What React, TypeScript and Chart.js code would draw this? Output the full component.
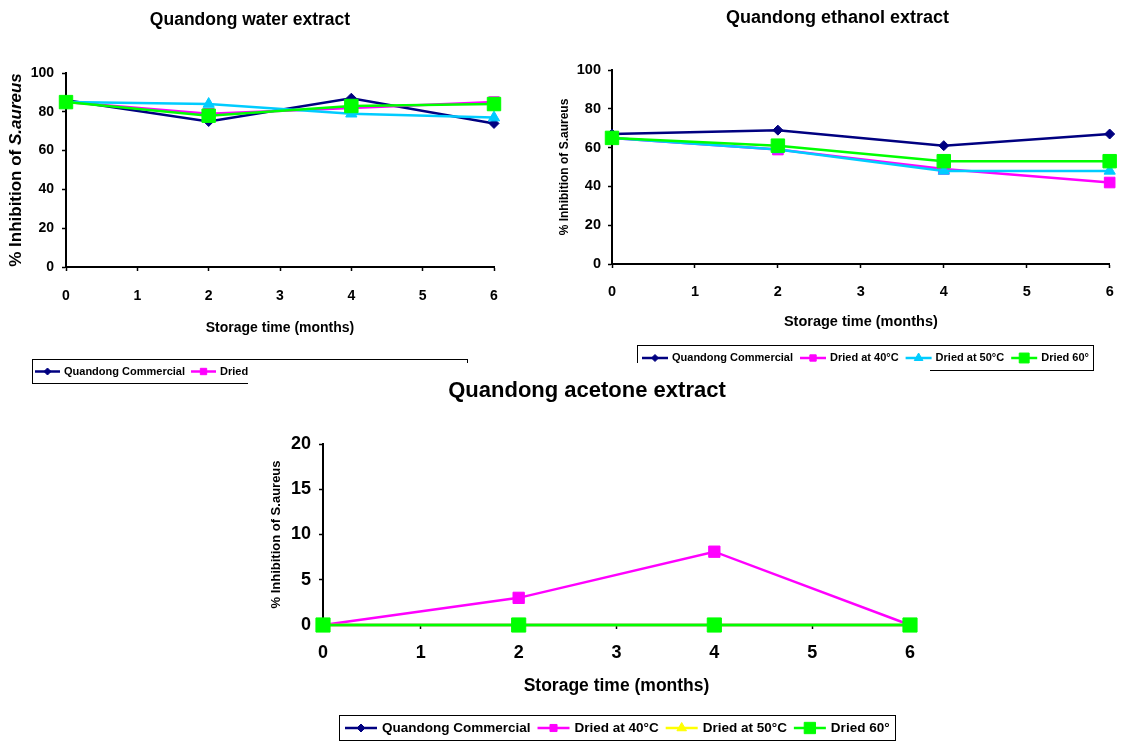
import React, { useEffect, useRef } from 'react';
import { Chart, registerables } from 'chart.js';
import { drawPoint } from 'chart.js/helpers';

Chart.register(...registerables);

const FONT = "'Liberation Sans', Arial, Helvetica, sans-serif";
Chart.defaults.font.family = FONT;
Chart.defaults.color = '#000';

// ---------- data ----------
const months = [0, 2, 4, 6];
const seriesNames = ['Quandong Commercial', 'Dried at 40°C', 'Dried at 50°C', 'Dried 60°'];

const waterCommercial = [86, 75, 87, 74];
const waterDried40 = [85, 79, 82, 85];
const waterDried50 = [85, 84, 79, 77];
const waterDried60 = [85, 78, 83, 84];

const ethanolCommercial = [67, 69, 61, 67];
const ethanolDried40 = [65, 59, 49, 42];
const ethanolDried50 = [65, 59, 48, 48];
const ethanolDried60 = [65, 61, 53, 53];

const acetoneCommercial = [0, 0, 0, 0];
const acetoneDried40 = [0, 3, 8.1, 0];
const acetoneDried50 = [0, 0, 0, 0];
const acetoneDried60 = [0, 0, 0, 0];

const xTitle = 'Storage time (months)';
const yTitle = '% Inhibition of S.aureus';

// ---------- styles ----------
const colorsBlue = ['#000080', '#FF00FF', '#00CCFF', '#00FF00'];
const colorsYellow = ['#000080', '#FF00FF', '#FFFF00', '#00FF00'];
const pointStyles = ['rectRot', 'rect', 'triangle', 'rect'];

function makeDatasets(values: number[][], colors: string[], radii: number[], legendRadii: number[]) {
  return seriesNames.map((name, i) => ({
    label: name,
    data: months.map((m, j) => ({ x: m, y: values[i][j] })),
    borderColor: colors[i],
    backgroundColor: colors[i],
    pointBackgroundColor: colors[i],
    pointBorderColor: colors[i],
    pointBorderWidth: 1,
    borderWidth: 2.5,
    pointStyle: pointStyles[i],
    pointRadius: radii[i],
    pointHoverRadius: radii[i],
    legendRadius: legendRadii[i],
    tension: 0,
    order: 4 - i,
    clip: false,
  }));
}

type LegendBox = { x: number; y: number; w: number; h: number; font: number; sym: number; padLeft: number; gap: number; itemGap: number };

function legendPlugin(box: LegendBox) {
  return {
    id: 'boxLegend',
    afterDraw(chart: any) {
      const ctx = chart.ctx as CanvasRenderingContext2D;
      ctx.save();
      ctx.lineWidth = 1;
      ctx.strokeStyle = '#000';
      ctx.strokeRect(box.x + 0.5, box.y + 0.5, box.w, box.h);
      const cy = box.y + box.h / 2 + 0.5;
      let x = box.x + box.padLeft;
      chart.data.datasets.forEach((ds: any) => {
        ctx.strokeStyle = ds.borderColor;
        ctx.lineWidth = ds.borderWidth;
        ctx.beginPath();
        ctx.moveTo(x, cy);
        ctx.lineTo(x + box.sym, cy);
        ctx.stroke();
        ctx.fillStyle = ds.pointBackgroundColor;
        ctx.strokeStyle = ds.pointBorderColor;
        ctx.lineWidth = 1;
        drawPoint(ctx, { pointStyle: ds.pointStyle, radius: ds.legendRadius, rotation: 0, borderWidth: 1 } as any, x + box.sym / 2, cy);
        x += box.sym + box.gap;
        ctx.font = `bold ${box.font}px ${FONT}`;
        ctx.textBaseline = 'middle';
        ctx.textAlign = 'left';
        ctx.fillStyle = '#000';
        ctx.fillText(ds.label, x, cy);
        x += ctx.measureText(ds.label).width + box.itemGap;
      });
      ctx.restore();
    },
  };
}

function mixedYTitlePlugin(cx: number, cy: number, size: number, parts: { text: string; italic: boolean }[]) {
  return {
    id: 'mixedYTitle',
    afterDraw(chart: any) {
      const ctx = chart.ctx as CanvasRenderingContext2D;
      ctx.save();
      ctx.translate(cx, cy);
      ctx.rotate(-Math.PI / 2);
      ctx.fillStyle = '#000';
      ctx.textBaseline = 'middle';
      ctx.textAlign = 'left';
      const fonts = parts.map((p) => `${p.italic ? 'italic ' : ''}bold ${size}px ${FONT}`);
      const widths = parts.map((p, i) => {
        ctx.font = fonts[i];
        return ctx.measureText(p.text).width;
      });
      const total = widths.reduce((a, b) => a + b, 0);
      let x = -total / 2;
      parts.forEach((p, i) => {
        ctx.font = fonts[i];
        ctx.fillText(p.text, x, 0);
        x += widths[i];
      });
      ctx.restore();
    },
  };
}

type ChartLayout = {
  title: string; titleSize: number; titlePadTop: number; titlePadBottom: number;
  padLeft: number; padRight: number; padBottom: number;
  yWidth: number; xHeight: number;
  tickSize: number; xTickPad: number; yTickPad: number;
  xTitleSize: number; xTitlePadBottom: number;
  yTitleShow: boolean; yTitleSize: number; yTitlePadTop: number;
  yMax: number; yStep: number;
};

function makeConfig(l: ChartLayout, datasets: any[], plugins: any[]) {
  const axisCommon = {
    grid: { display: true, drawOnChartArea: false, drawTicks: true, tickLength: 4, color: '#000', tickColor: '#000', tickWidth: 1.5 },
    border: { display: true, color: '#000', width: 2 },
  };
  return {
    type: 'line' as const,
    data: { datasets },
    plugins,
    options: {
      animation: false as const,
      responsive: false,
      maintainAspectRatio: false,
      devicePixelRatio: 1,
      events: [],
      layout: { padding: { left: l.padLeft, right: l.padRight, top: 0, bottom: l.padBottom } },
      plugins: {
        legend: { display: false },
        tooltip: { enabled: false },
        title: {
          display: true,
          text: l.title,
          color: '#000',
          font: { family: FONT, size: l.titleSize, weight: 'bold' as const, lineHeight: 1.2 },
          padding: { top: l.titlePadTop, bottom: l.titlePadBottom },
        },
      },
      scales: {
        x: {
          type: 'linear' as const,
          min: 0,
          max: 6,
          afterFit: (s: any) => { s.height = l.xHeight; },
          ticks: { stepSize: 1, autoSkip: false, color: '#000', padding: l.xTickPad, font: { family: FONT, size: l.tickSize, weight: 'bold' as const, lineHeight: 1.2 } },
          title: { display: true, text: xTitle, color: '#000', font: { family: FONT, size: l.xTitleSize, weight: 'bold' as const, lineHeight: 1.2 }, padding: { top: 0, bottom: l.xTitlePadBottom } },
          ...axisCommon,
        },
        y: {
          type: 'linear' as const,
          min: 0,
          max: l.yMax,
          afterFit: (s: any) => { s.width = l.yWidth; },
          ticks: { stepSize: l.yStep, autoSkip: false, color: '#000', padding: l.yTickPad, font: { family: FONT, size: l.tickSize, weight: 'bold' as const, lineHeight: 1.2 } },
          title: { display: l.yTitleShow, text: yTitle, color: '#000', font: { family: FONT, size: l.yTitleSize, weight: 'bold' as const, lineHeight: 1.2 }, padding: { top: l.yTitlePadTop, bottom: 0 } },
          ...axisCommon,
        },
      },
    },
  };
}

const waterLayout: ChartLayout = {
  title: 'Quandong water extract', titleSize: 17.5, titlePadTop: 9.5, titlePadBottom: 42.5,
  padLeft: 6, padRight: 26, padBottom: 44,
  yWidth: 60, xHeight: 73,
  tickSize: 14, xTickPad: 16.5, yTickPad: 8,
  xTitleSize: 14, xTitlePadBottom: 3.6,
  yTitleShow: false, yTitleSize: 17, yTitlePadTop: 0,
  yMax: 100, yStep: 20,
};

const ethanolLayout: ChartLayout = {
  title: 'Quandong ethanol extract', titleSize: 18, titlePadTop: 7.2, titlePadBottom: 41.2,
  padLeft: 17, padRight: 11, padBottom: 38,
  yWidth: 55, xHeight: 70,
  tickSize: 14.5, xTickPad: 15.3, yTickPad: 7,
  xTitleSize: 14.5, xTitlePadBottom: 3.3,
  yTitleShow: true, yTitleSize: 12, yTitlePadTop: 0,
  yMax: 100, yStep: 20,
};

const acetoneLayout: ChartLayout = {
  title: 'Quandong acetone extract', titleSize: 22, titlePadTop: 14.8, titlePadBottom: 39.8,
  padLeft: 16, padRight: 20, padBottom: 39,
  yWidth: 59, xHeight: 78,
  tickSize: 18, xTickPad: 13.2, yTickPad: 8,
  xTitleSize: 17.5, xTitlePadBottom: 6.5,
  yTitleShow: true, yTitleSize: 13, yTitlePadTop: 4.2,
  yMax: 20, yStep: 5,
};

export default function App() {
  const waterRef = useRef<HTMLCanvasElement>(null);
  const ethanolRef = useRef<HTMLCanvasElement>(null);
  const acetoneRef = useRef<HTMLCanvasElement>(null);

  useEffect(() => {
    const charts: Chart[] = [];
    if (waterRef.current) {
      charts.push(new Chart(waterRef.current, makeConfig(
        waterLayout,
        makeDatasets([waterCommercial, waterDried40, waterDried50, waterDried60], colorsBlue, [5, 7.5, 6.5, 9.5], [3.5, 4.5, 5, 7]),
        [
          legendPlugin({ x: 32, y: 359, w: 435, h: 24, font: 11, sym: 25, padLeft: 3, gap: 4, itemGap: 6 }),
          mixedYTitlePlugin(16, 170, 17, [{ text: '% Inhibition of ', italic: false }, { text: 'S.aureus', italic: true }]),
        ],
      ) as any));
    }
    if (ethanolRef.current) {
      charts.push(new Chart(ethanolRef.current, makeConfig(
        ethanolLayout,
        makeDatasets([ethanolCommercial, ethanolDried40, ethanolDried50, ethanolDried60], colorsBlue, [5, 7.5, 6.5, 9.5], [3.5, 4.5, 5, 7]),
        [legendPlugin({ x: 97, y: 345, w: 456, h: 25, font: 11, sym: 26, padLeft: 5, gap: 4, itemGap: 7 })],
      ) as any));
    }
    if (acetoneRef.current) {
      charts.push(new Chart(acetoneRef.current, makeConfig(
        acetoneLayout,
        makeDatasets([acetoneCommercial, acetoneDried40, acetoneDried50, acetoneDried60], colorsYellow, [5, 8, 6.5, 10], [4, 5, 5.5, 8]),
        [legendPlugin({ x: 91, y: 352, w: 556, h: 25, font: 13.5, sym: 32, padLeft: 6, gap: 5, itemGap: 7 })],
      ) as any));
    }
    return () => charts.forEach((c) => c.destroy());
  }, []);

  return (
    <div style={{ position: 'absolute', left: 0, top: 0, width: 1129, height: 742, background: '#fff', overflow: 'hidden' }}>
      <canvas ref={waterRef} width={520} height={384} style={{ position: 'absolute', left: 0, top: 0, width: 520, height: 384 }} />
      <canvas ref={ethanolRef} width={589} height={372} style={{ position: 'absolute', left: 540, top: 0, width: 589, height: 372 }} />
      <canvas ref={acetoneRef} width={682} height={379} style={{ position: 'absolute', left: 248, top: 363, width: 682, height: 379, background: '#fff', zIndex: 2 }} />
    </div>
  );
}
